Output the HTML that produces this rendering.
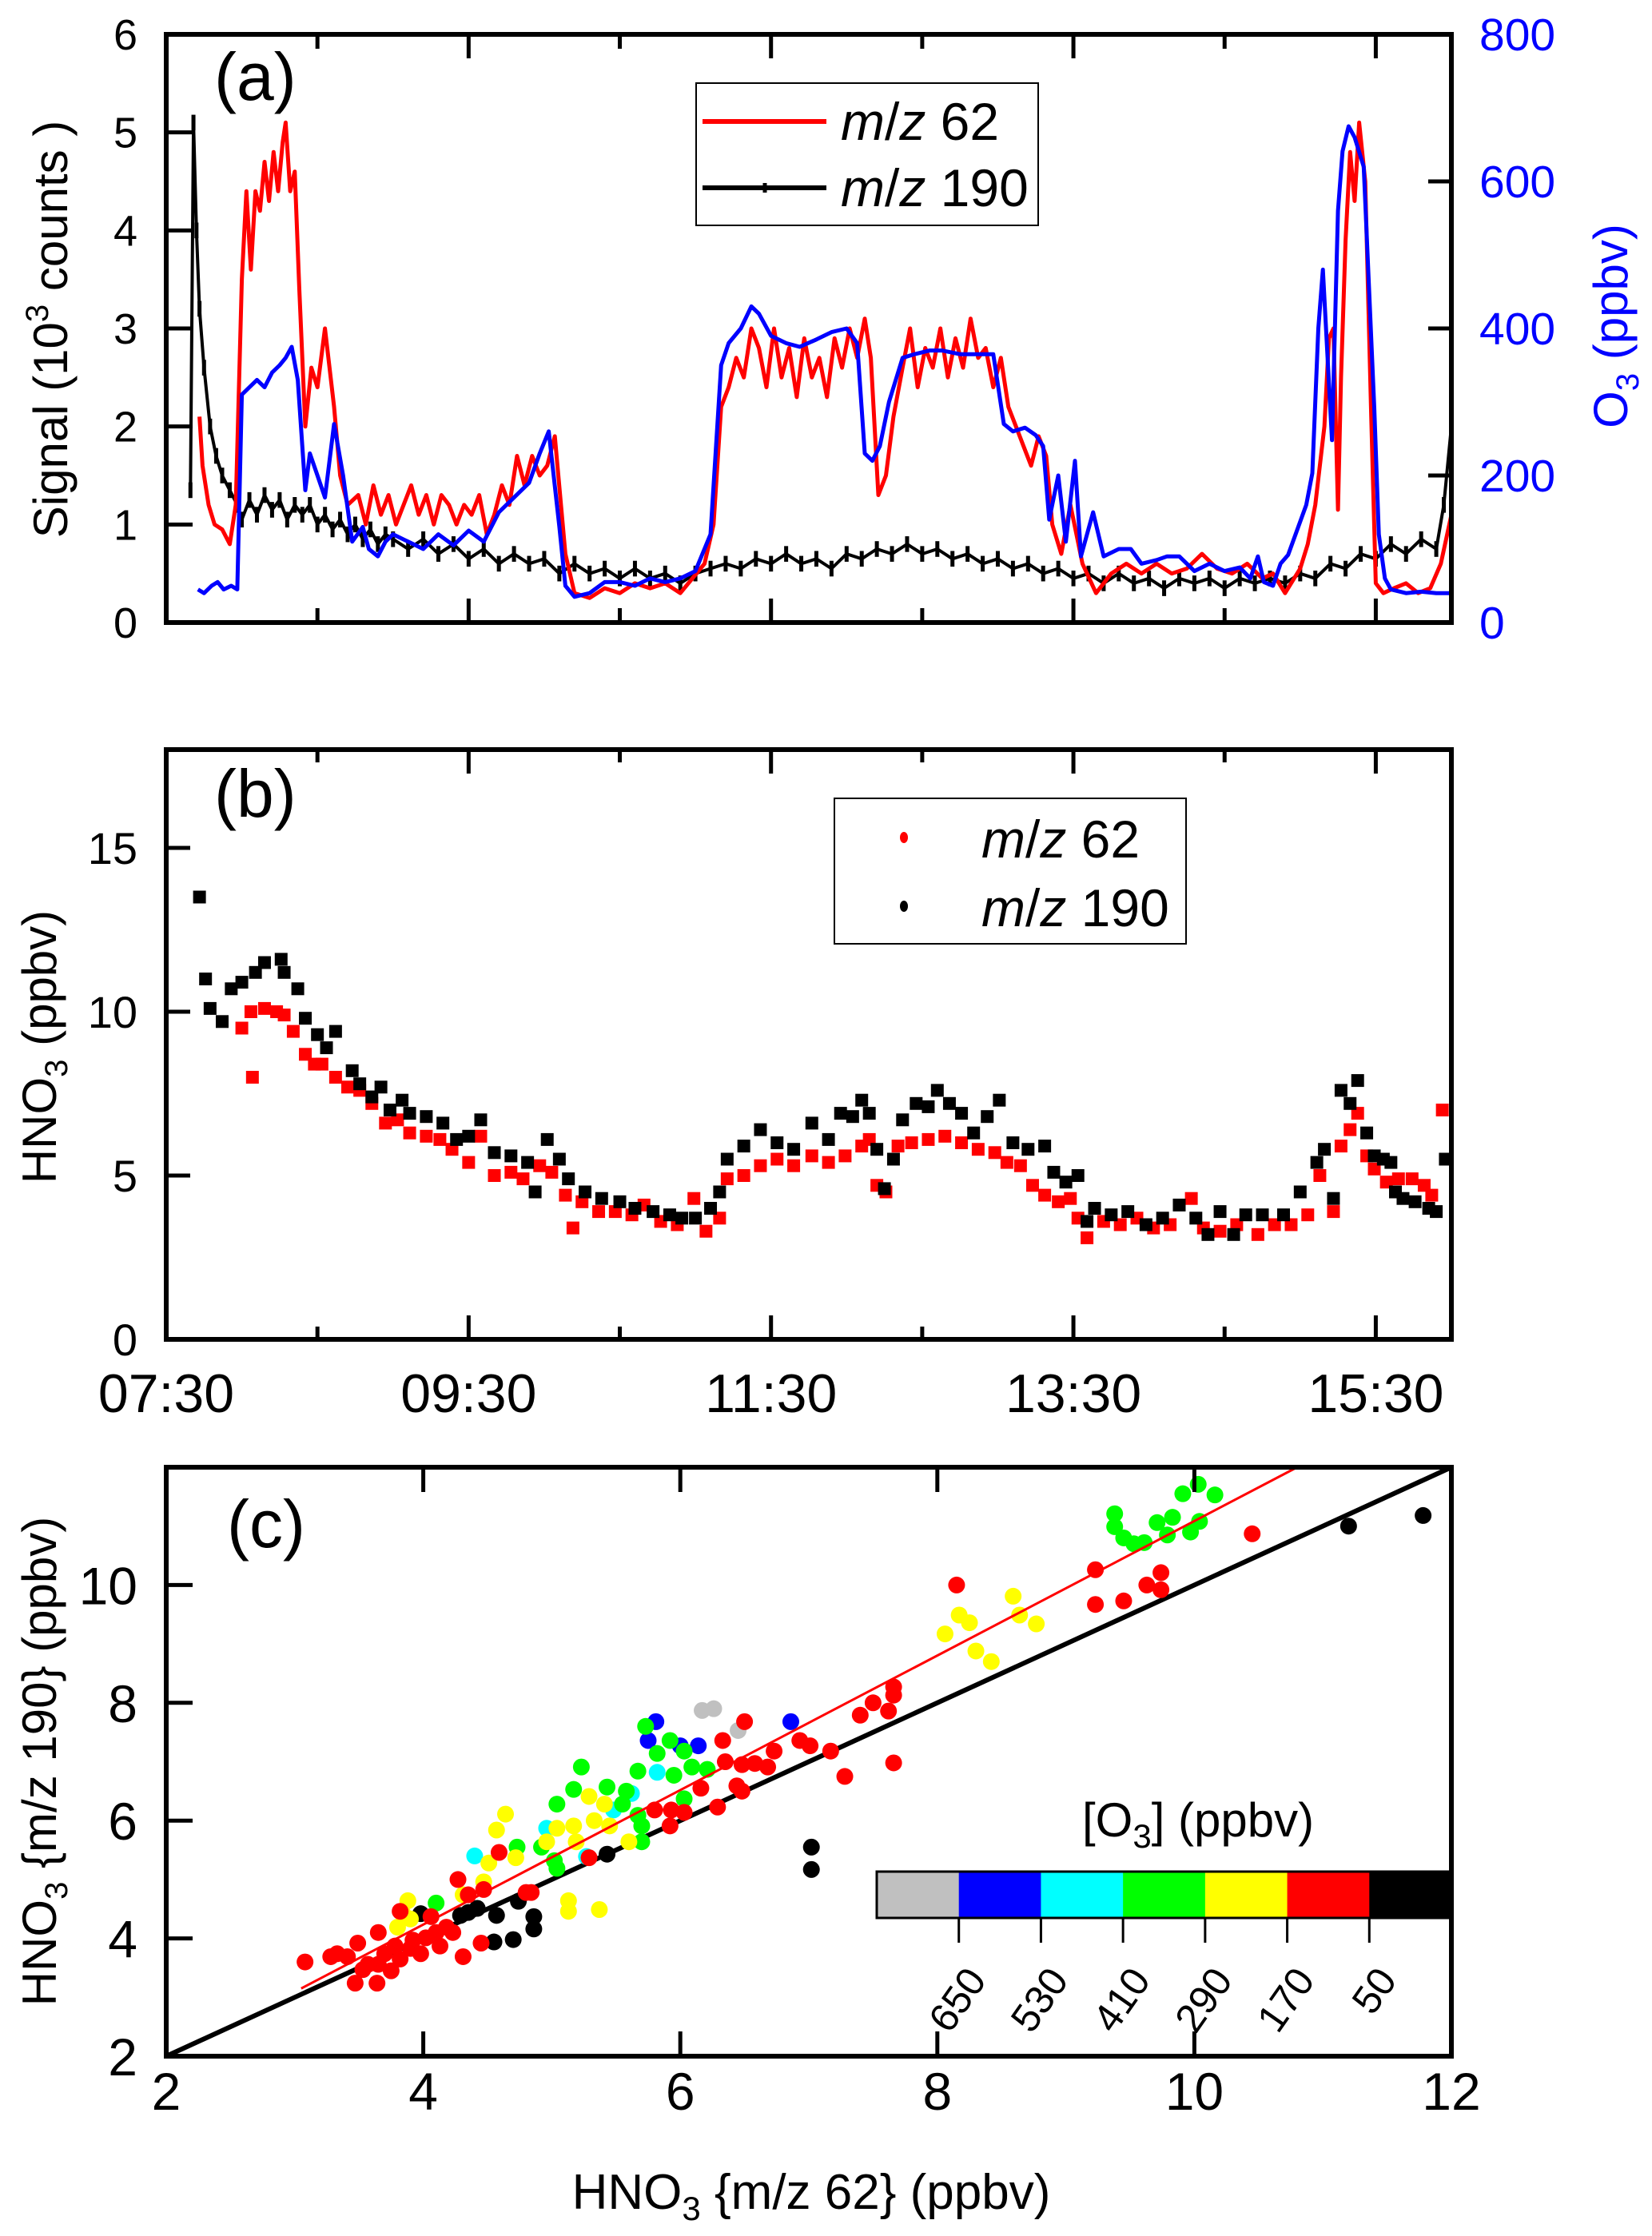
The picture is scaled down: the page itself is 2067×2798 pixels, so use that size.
<!DOCTYPE html>
<html><head><meta charset="utf-8"><style>
html,body{margin:0;padding:0;background:#fff;}
svg{display:block;}
text{font-family:"Liberation Sans",sans-serif;}
.n{font-family:"Liberation Sans Narrow","Liberation Sans",sans-serif;}
</style></head><body>
<svg id="fig" xmlns="http://www.w3.org/2000/svg" width="2067" height="2798" viewBox="0 0 2067 2798">
</svg>
<script>
// ---------- DATA ----------
// Panel (a): m/z 62 signal (10^3 counts) vs hour
const redA_t = [7.72,7.74,7.78,7.82,7.87,7.92,7.96,8.0,8.03,8.06,8.09,8.12,8.15,8.18,8.21,8.24,8.27,8.29,8.32,8.35,8.38,8.42,8.46,8.5,8.55,8.61,8.65,8.7,8.77,8.82,8.87,8.92,8.97,9.02,9.07,9.12,9.17,9.22,9.27,9.32,9.37,9.42,9.47,9.52,9.57,9.62,9.67,9.72,9.77,9.82,9.87,9.92,9.97,10.02,10.07,10.14,10.2,10.3,10.4,10.5,10.6,10.7,10.8,10.9,10.98,11.06,11.12,11.17,11.22,11.27,11.32,11.37,11.42,11.47,11.52,11.57,11.62,11.67,11.72,11.77,11.82,11.87,11.92,11.97,12.02,12.07,12.12,12.16,12.21,12.26,12.31,12.37,12.42,12.47,12.52,12.57,12.62,12.67,12.72,12.77,12.82,12.87,12.92,12.97,13.02,13.07,13.12,13.17,13.22,13.27,13.32,13.36,13.42,13.48,13.56,13.65,13.75,13.85,13.95,14.05,14.15,14.25,14.35,14.45,14.55,14.65,14.75,14.82,14.9,15.0,15.05,15.1,15.16,15.19,15.22,15.25,15.27,15.3,15.33,15.36,15.39,15.43,15.47,15.5,15.55,15.62,15.7,15.78,15.86,15.93,16.0];
const redA_v = [2.1,1.6,1.2,1.0,0.95,0.8,1.2,3.5,4.4,3.6,4.4,4.2,4.7,4.3,4.8,4.4,4.9,5.1,4.4,4.6,3.4,2.0,2.6,2.4,3.0,2.2,1.5,1.2,1.3,1.0,1.4,1.1,1.3,1.0,1.2,1.4,1.1,1.3,1.0,1.3,1.2,1.0,1.2,1.1,1.3,0.9,1.1,1.4,1.2,1.7,1.4,1.7,1.5,1.6,1.9,0.7,0.3,0.25,0.35,0.3,0.4,0.35,0.4,0.3,0.45,0.6,1.0,2.2,2.4,2.7,2.5,3.0,2.8,2.4,3.0,2.5,2.8,2.3,2.9,2.5,2.7,2.3,2.9,2.6,3.0,2.7,3.1,2.7,1.3,1.5,2.1,2.6,3.0,2.4,2.8,2.6,3.0,2.5,2.9,2.6,3.1,2.7,2.8,2.4,2.7,2.2,2.0,1.8,1.6,1.9,1.7,1.0,0.7,1.2,0.6,0.3,0.5,0.6,0.5,0.6,0.5,0.55,0.7,0.55,0.5,0.6,0.45,0.5,0.3,0.55,0.8,1.2,2.0,2.9,3.0,1.15,2.5,3.9,4.8,4.3,5.1,4.5,2.1,0.4,0.3,0.35,0.4,0.3,0.35,0.6,1.1];
// Panel (a): O3 (ppbv) vs hour
const o3_t = [7.71,7.75,7.8,7.84,7.88,7.93,7.97,8.0,8.05,8.1,8.15,8.2,8.25,8.29,8.33,8.37,8.42,8.45,8.5,8.55,8.61,8.67,8.73,8.8,8.84,8.9,8.95,9.0,9.1,9.2,9.3,9.4,9.5,9.6,9.7,9.8,9.9,9.97,10.03,10.1,10.14,10.2,10.3,10.4,10.5,10.6,10.7,10.8,10.9,11.0,11.1,11.17,11.22,11.3,11.37,11.42,11.5,11.6,11.69,11.8,11.9,12.0,12.07,12.12,12.17,12.22,12.28,12.37,12.45,12.55,12.63,12.75,12.85,12.97,13.04,13.1,13.18,13.25,13.3,13.34,13.4,13.45,13.51,13.55,13.63,13.7,13.8,13.88,13.95,14.05,14.12,14.2,14.3,14.4,14.5,14.6,14.67,14.72,14.76,14.82,14.87,14.92,15.04,15.08,15.12,15.15,15.21,15.25,15.28,15.32,15.36,15.42,15.49,15.52,15.56,15.6,15.7,15.8,15.9,16.0];
const o3_v = [45,40,50,55,45,50,45,310,320,330,320,340,350,360,375,330,180,230,200,170,270,200,110,130,100,90,110,120,110,100,120,105,125,110,150,170,190,230,260,130,50,35,40,55,55,50,60,55,60,70,120,350,380,400,430,420,390,380,375,385,395,400,380,230,220,240,300,360,365,370,370,365,365,365,270,260,265,255,240,140,200,110,220,90,150,90,100,100,80,85,90,90,70,80,70,75,60,90,55,50,80,92,160,203,400,480,248,560,641,675,660,620,292,120,60,45,40,42,40,40];
// Panel (a): m/z 190 signal (10^3 counts)
const blkA_t = [7.66,7.68,7.7,7.72,7.75,7.79,7.83,7.87,7.92,7.97,8.0,8.05,8.1,8.15,8.2,8.25,8.3,8.35,8.4,8.45,8.5,8.55,8.6,8.65,8.7,8.75,8.8,8.85,8.9,8.95,9.0,9.1,9.2,9.3,9.4,9.5,9.6,9.7,9.8,9.9,10.0,10.1,10.2,10.3,10.4,10.5,10.6,10.7,10.8,10.9,11.0,11.1,11.2,11.3,11.4,11.5,11.6,11.7,11.8,11.9,12.0,12.1,12.2,12.3,12.4,12.5,12.6,12.7,12.8,12.9,13.0,13.1,13.2,13.3,13.4,13.5,13.6,13.7,13.8,13.9,14.0,14.1,14.2,14.3,14.4,14.5,14.6,14.7,14.8,14.9,15.0,15.1,15.2,15.3,15.4,15.5,15.6,15.7,15.8,15.9,15.95,16.0];
const blkA_v = [1.35,5.1,4.0,3.2,2.6,2.0,1.7,1.5,1.35,1.2,1.05,1.25,1.1,1.3,1.15,1.25,1.05,1.2,1.1,1.2,1.0,1.1,0.95,1.05,0.9,1.0,0.85,0.95,0.8,0.9,0.85,0.75,0.85,0.7,0.8,0.65,0.75,0.6,0.7,0.6,0.65,0.5,0.6,0.5,0.55,0.45,0.55,0.45,0.5,0.4,0.5,0.55,0.6,0.55,0.65,0.6,0.7,0.6,0.65,0.55,0.7,0.65,0.75,0.7,0.8,0.7,0.75,0.65,0.7,0.6,0.65,0.55,0.6,0.5,0.55,0.45,0.5,0.4,0.5,0.4,0.45,0.35,0.45,0.4,0.45,0.35,0.45,0.4,0.45,0.4,0.5,0.45,0.6,0.55,0.7,0.65,0.8,0.7,0.85,0.75,1.2,2.0];
// Panel (b): HNO3 (ppbv)
const blkB_t = [7.72,7.76,7.79,7.87,7.93,8.0,8.09,8.15,8.26,8.28,8.37,8.42,8.5,8.56,8.62,8.73,8.78,8.86,8.92,8.98,9.06,9.11,9.22,9.33,9.42,9.5,9.58,9.67,9.78,9.89,9.94,10.02,10.1,10.16,10.27,10.38,10.5,10.6,10.72,10.83,10.91,11.0,11.1,11.16,11.21,11.32,11.43,11.54,11.65,11.77,11.88,11.96,12.04,12.1,12.15,12.2,12.25,12.31,12.37,12.46,12.54,12.6,12.68,12.76,12.84,12.93,13.01,13.1,13.2,13.31,13.37,13.45,13.53,13.59,13.64,13.75,13.86,13.98,14.09,14.2,14.31,14.39,14.47,14.56,14.64,14.75,14.89,15.0,15.11,15.16,15.22,15.27,15.33,15.38,15.44,15.49,15.55,15.6,15.63,15.68,15.76,15.85,15.9,15.96];
const blkB_v = [13.5,11.0,10.1,9.7,10.7,10.9,11.2,11.5,11.6,11.2,10.7,9.8,9.3,8.9,9.4,8.2,7.8,7.4,7.7,7.0,7.3,6.9,6.8,6.6,6.1,6.2,6.7,5.7,5.6,5.4,4.5,6.1,5.5,4.9,4.5,4.3,4.2,4.0,3.9,3.8,3.7,3.7,4.0,4.5,5.5,5.9,6.4,6.0,5.8,6.6,6.1,6.9,6.8,7.3,6.9,5.8,4.6,5.5,6.7,7.2,7.1,7.6,7.2,6.9,6.3,6.8,7.3,6.0,5.8,5.9,5.1,4.8,5.0,3.6,4.0,3.8,3.9,3.5,3.7,4.1,3.7,3.2,3.9,3.2,3.8,3.8,3.8,4.5,5.4,5.8,4.3,7.6,7.2,7.9,6.3,5.6,5.5,5.4,4.5,4.3,4.2,4.0,3.9,5.5];
const redB_t = [8.0,8.06,8.07,8.15,8.23,8.28,8.34,8.42,8.48,8.53,8.62,8.7,8.78,8.86,8.95,9.03,9.11,9.22,9.31,9.39,9.5,9.58,9.67,9.78,9.86,9.97,10.05,10.14,10.19,10.25,10.36,10.47,10.58,10.66,10.77,10.88,10.99,11.07,11.16,11.21,11.32,11.43,11.54,11.65,11.77,11.88,11.99,12.1,12.15,12.2,12.26,12.34,12.43,12.54,12.65,12.76,12.87,12.98,13.06,13.15,13.23,13.31,13.4,13.48,13.53,13.59,13.7,13.81,13.92,14.03,14.14,14.28,14.36,14.47,14.58,14.72,14.83,14.94,15.05,15.13,15.22,15.27,15.33,15.38,15.44,15.49,15.57,15.65,15.74,15.82,15.87,15.94];
const redB_v = [9.5,10.0,8.0,10.1,10.0,9.9,9.4,8.7,8.4,8.4,8.0,7.7,7.6,7.2,6.6,6.7,6.3,6.2,6.1,5.8,5.4,6.2,5.0,5.1,4.9,5.3,5.1,4.4,3.4,4.2,3.9,3.9,3.8,4.1,3.6,3.5,4.3,3.3,3.7,4.9,5.0,5.3,5.5,5.3,5.6,5.4,5.6,5.9,6.1,4.7,4.5,5.9,6.0,6.1,6.2,6.0,5.8,5.7,5.4,5.3,4.7,4.4,4.2,4.3,3.7,3.1,3.6,3.5,3.7,3.4,3.5,4.3,3.4,3.3,3.5,3.2,3.5,3.5,3.8,5.0,3.9,5.9,6.4,6.9,5.6,5.2,4.8,4.9,4.9,4.7,4.4,7.0];
// Panel (c): scatter, x = HNO3 m/z62, y = HNO3 m/z190, c = O3 bin index
const binColors = ["#c0c0c0","#0000ff","#00ffff","#00ff00","#ffff00","#ff0000","#000000"];
const binLabels = ["650","530","410","290","170","50"];
const scX = [11.2,11.78,7.02,7.02,5.43,4.74,4.86,4.86,4.70,4.55,4.57,4.35,4.29,4.42,3.98,
 6.17,6.26,6.45,
 5.81,5.75,6.0,6.14,6.86,
 4.96,4.40,5.27,5.82,5.62,5.48,
 9.38,9.38,9.45,9.53,9.61,9.71,9.83,9.79,9.91,10.03,10.16,10.04,9.97,5.23,5.17,5.04,5.43,5.55,5.67,5.73,5.82,5.92,6.03,6.09,6.21,5.95,6.03,5.70,5.70,5.67,5.58,4.92,4.73,5.04,5.02,4.10,
 8.06,8.17,8.25,8.3,8.42,8.59,8.64,8.77,4.64,4.57,5.13,5.37,5.13,4.72,4.96,5.04,5.17,5.29,5.41,5.33,5.45,5.60,5.19,4.51,4.47,4.31,3.88,3.84,3.80,3.90,
 10.45,8.15,9.23,9.23,9.45,9.63,9.74,9.74,7.66,7.66,7.50,7.62,7.40,7.66,7.28,7.17,6.93,7.01,6.73,6.68,6.58,6.48,6.35,6.33,6.50,6.44,6.48,6.29,6.16,6.03,5.92,5.93,5.80,5.29,4.59,4.80,4.84,4.47,4.35,4.27,4.31,4.45,4.18,4.06,3.82,3.65,3.49,3.33,3.08,3.47,3.64,3.75,3.57,3.41,3.70,3.90,3.98,4.10,4.02,3.92,3.78,3.65,3.53,3.82,4.13,4.23,3.28];
const scY = [11.0,11.18,5.55,5.17,5.43,4.63,4.37,4.16,3.98,3.94,4.39,4.44,4.39,4.51,4.42,
 7.87,7.9,7.53,
 7.68,7.36,7.27,7.27,7.68,
 5.87,5.40,5.39,6.82,6.46,6.18,
 11.21,10.99,10.8,10.7,10.72,11.06,11.15,10.85,11.55,11.71,11.53,11.08,10.9,6.91,6.53,6.28,6.57,6.28,6.84,7.6,7.14,7.36,7.18,6.91,6.87,6.77,6.37,5.91,5.64,6.09,6.5,5.55,5.55,5.19,5.32,4.6,
 9.17,9.49,9.36,8.88,8.70,9.81,9.49,9.34,6.11,5.84,4.64,4.49,4.46,5.37,5.64,5.87,5.91,6.41,6.28,6.0,5.91,5.64,5.64,5.28,4.96,4.74,4.64,4.42,4.19,4.33,
 10.87,10.0,10.26,9.67,9.73,10.0,10.21,9.92,8.27,8.13,8.0,7.86,7.79,6.98,6.75,7.18,7.36,7.27,7.18,6.91,6.97,6.95,7.0,7.36,7.68,6.59,6.5,6.23,6.55,6.14,5.91,6.18,6.18,5.37,5.46,4.78,4.78,4.83,4.74,5.0,3.69,3.92,4.19,4.37,4.46,4.10,3.92,3.74,3.60,3.24,3.24,3.45,3.56,3.69,3.74,3.83,3.74,4.10,4.01,3.97,3.87,3.56,3.47,3.65,3.87,4.10,3.69];
const scC = [6,6,6,6,6,6,6,6,6,6,6,6,6,6,6,
 0,0,0,
 1,1,1,1,1,
 2,2,2,2,2,2,
 3,3,3,3,3,3,3,3,3,3,3,3,3,3,3,3,3,3,3,3,3,3,3,3,3,3,3,3,3,3,3,3,3,3,3,3,
 4,4,4,4,4,4,4,4,4,4,4,4,4,4,4,4,4,4,4,4,4,4,4,4,4,4,4,4,4,4,
 5,5,5,5,5,5,5,5,5,5,5,5,5,5,5,5,5,5,5,5,5,5,5,5,5,5,5,5,5,5,5,5,5,5,5,5,5,5,5,5,5,5,5,5,5,5,5,5,5,5,5,5,5,5,5,5,5,5,5,5,5,5,5,5,5,5,5];
const fitX = [3.05,10.8];
const fitY = [3.15,12.0];

// ---------- HELPERS ----------
const NS="http://www.w3.org/2000/svg";
const svg=document.getElementById('fig');
function mk(tag,attrs,parent){const e=document.createElementNS(NS,tag);for(const k in attrs)e.setAttribute(k,attrs[k]);(parent||svg).appendChild(e);return e;}
function txt(s,attrs,parent){const e=mk('text',attrs,parent);e.textContent=s;return e;}
const L=208,R=1816;
const xT=t=>L+(t-7.5)*(R-L)/8.5;
// panel a
const aTop=43,aBot=779;
const yA=v=>aBot-v*(aBot-aTop)/6;
const yO=v=>aBot-v*(aBot-aTop)/800;
// panel b
const bTop=938,bBot=1676;
const yB=v=>bBot-v*41;
// panel c
const cTop=1836,cBot=2573;
const xC=v=>L+(v-2)*(R-L)/10;
const yC=v=>cBot-(v-2)*(cBot-cTop)/10;

function frame(top,bot,name){const r=mk('rect',{x:L,y:top,width:R-L,height:bot-top,fill:'none',stroke:'#000','stroke-width':6});

}
function line(x1,y1,x2,y2,col,w,parent){return mk('line',{x1,y1,x2,y2,stroke:col,'stroke-width':w},parent);}

// ================= PANEL A =================
const gA=mk('g',{});


function pts(ts,vs,fy){return ts.map((t,i)=>xT(t).toFixed(1)+','+fy(vs[i]).toFixed(1)).join(' ');}
const blkLine=mk('polyline',{points:pts(blkA_t,blkA_v,yA),fill:'none',stroke:'#000','stroke-width':4,'stroke-linejoin':'round'},gA);


blkA_t.forEach((t,i)=>{const e=line(xT(t),yA(blkA_v[i]+0.08),xT(t),yA(blkA_v[i]-0.08),'#000',5,gA);

});
const redLine=mk('polyline',{points:pts(redA_t,redA_v,yA),fill:'none',stroke:'#ff0000','stroke-width':5,'stroke-linejoin':'round'},gA);


const o3Line=mk('polyline',{points:pts(o3_t,o3_v,yO),fill:'none',stroke:'#0000ff','stroke-width':5,'stroke-linejoin':'round'},gA);


frame(aTop,aBot,'panel-a-frame');
// x ticks (hourly)
for(let h=8;h<=15;h++){const big=(h%2===1);const x=xT(h+0.5);const len=big?30:18;
 const t1=line(x,aTop,x,aTop+len,'#000',5);
 const t2=line(x,aBot,x,aBot-len,'#000',5);}
for(let v=0;v<=6;v++){const y=yA(v);
 if(v>0&&v<6){const tk=line(L,y,L+33,y,'#000',5);}
 const lb=txt(String(v),{x:172,y:y+19,'font-size':54,'text-anchor':'end',class:'n'});
 }
for(let v=0;v<=800;v+=200){const y=yO(v);
 if(v>0&&v<800){const tk=line(R,y,R-29,y,'#000',5);}
 const lb=txt(String(v),{x:1851,y:y+20,'font-size':57,fill:'#0000ff'});
 }
let t=txt('',{x:0,y:0,'font-size':60,transform:'translate(84,412) rotate(-90)','text-anchor':'middle',class:'n'});
t.innerHTML='Signal (10<tspan dy="-24" font-size="40">3</tspan><tspan dy="24"> counts )</tspan>';

t=txt('',{x:0,y:0,'font-size':60,fill:'#0000ff',transform:'translate(2036,408) rotate(-90)','text-anchor':'middle'});
t.innerHTML='O<tspan dy="14" font-size="40">3</tspan><tspan dy="-14"> (ppbv)</tspan>';

t=txt('(a)',{x:268,y:125,'font-size':84,class:'n'});

// legend a
const lgA=mk('g',{});


mk('rect',{x:871,y:104,width:428,height:178,fill:'#fff',stroke:'#000','stroke-width':2},lgA);
line(879,152,1034,152,'#ff0000',6,lgA);
line(879,235,1034,235,'#000',6,lgA);
line(957,229,957,241,'#000',5,lgA);
t=txt('',{x:1052,y:175,'font-size':66,class:'n'},lgA);t.innerHTML='<tspan font-style="italic">m</tspan>/<tspan font-style="italic">z</tspan> 62';

t=txt('',{x:1052,y:258,'font-size':66,class:'n'},lgA);t.innerHTML='<tspan font-style="italic">m</tspan>/<tspan font-style="italic">z</tspan> 190';


// ================= PANEL B =================
const gB=mk('g',{});


redB_t.forEach((tt,i)=>{const r=mk('rect',{x:xT(tt)-8,y:yB(redB_v[i])-8,width:16,height:16,fill:'#ff0000'},gB);

});
blkB_t.forEach((tt,i)=>{const r=mk('rect',{x:xT(tt)-8,y:yB(blkB_v[i])-8,width:16,height:16,fill:'#000'},gB);

});
frame(bTop,bBot,'panel-b-frame');
const timeLabels=["07:30","09:30","11:30","13:30","15:30"];
for(let h=8;h<=15;h++){const big=(h%2===1);const x=xT(h+0.5);const len=big?30:16;
 const t1=line(x,bTop,x,bTop+len,'#000',5);
 const t2=line(x,bBot,x,bBot-len,'#000',5);}
timeLabels.forEach((s,i)=>{const lb=txt(s,{x:xT(7.5+2*i),y:1767,'font-size':68,'text-anchor':'middle'});
});
for(let v=0;v<=15;v+=5){const y=yB(v);
 if(v>0){const tk=line(L,y,L+30,y,'#000',5);}
 const lb=txt(String(v),{x:172,y:y+20,'font-size':56,'text-anchor':'end'});
 }
t=txt('',{x:0,y:0,'font-size':60,transform:'translate(70,1310) rotate(-90)','text-anchor':'middle',class:'n'});
t.innerHTML='HNO<tspan dy="14" font-size="40">3</tspan><tspan dy="-14"> (ppbv)</tspan>';

t=txt('(b)',{x:268,y:1022,'font-size':84,class:'n'});

const lgB=mk('g',{});


mk('rect',{x:1044,y:999,width:440,height:182,fill:'#fff',stroke:'#000','stroke-width':2},lgB);
mk('ellipse',{cx:1131,cy:1048,rx:5,ry:7,fill:'#ff0000'},lgB);
mk('ellipse',{cx:1131,cy:1134,rx:5,ry:7,fill:'#000'},lgB);
t=txt('',{x:1228,y:1073,'font-size':66,class:'n'},lgB);t.innerHTML='<tspan font-style="italic">m</tspan>/<tspan font-style="italic">z</tspan> 62';

t=txt('',{x:1228,y:1159,'font-size':66,class:'n'},lgB);t.innerHTML='<tspan font-style="italic">m</tspan>/<tspan font-style="italic">z</tspan> 190';


// ================= PANEL C =================
const gC=mk('g',{});


const oneOne=line(xC(2),yC(2),xC(12),yC(12),'#000',6,gC);


scX.forEach((v,i)=>{const c=mk('circle',{cx:xC(v),cy:yC(scY[i]),r:10.5,fill:binColors[scC[i]]},gC);

});
const fit=line(xC(fitX[0]),yC(fitY[0]),xC(fitX[1]),yC(fitY[1]),'#ff0000',3,gC);


frame(cTop,cBot,'panel-c-frame');
for(let v=2;v<=12;v+=2){const x=xC(v);
 if(v>2&&v<12){const a1=line(x,cTop,x,cTop+31,'#000',5);
 const a2=line(x,cBot,x,cBot-31,'#000',5);}
 const lb=txt(String(v),{x:x,y:2640,'font-size':66,'text-anchor':'middle',class:'n'});
 }
for(let v=2;v<=10;v+=2){const y=yC(v);
 if(v>2){const tk=line(L,y,L+33,y,'#000',5);}
 const lb=txt(String(v),{x:172,y:y+24,'font-size':66,'text-anchor':'end',class:'n'});
 }
t=txt('',{x:0,y:0,'font-size':60,transform:'translate(70,2204) rotate(-90)','text-anchor':'middle'});
t.innerHTML='HNO<tspan dy="14" font-size="40">3</tspan><tspan dy="-14"> {m/z 190} (ppbv)</tspan>';

t=txt('',{x:1015,y:2764,'font-size':62,'text-anchor':'middle',class:'n'});
t.innerHTML='HNO<tspan dy="14" font-size="42">3</tspan><tspan dy="-14"> {m/z 62} (ppbv)</tspan>';

t=txt('(c)',{x:284,y:1936,'font-size':84,class:'n'});

// colour bar
const cb=mk('g',{});


const cbL=1097,cbR=1816,cbT=2342,cbB=2400,seg=(cbR-cbL)/7;
binColors.forEach((c,i)=>{const r=mk('rect',{x:cbL+i*seg,y:cbT,width:seg+0.5,height:cbB-cbT,fill:c},cb);

});
mk('rect',{x:cbL,y:cbT,width:cbR-cbL,height:cbB-cbT,fill:'none',stroke:'#000','stroke-width':3},cb);
binLabels.forEach((s,i)=>{const x=cbL+(i+1)*seg;
 line(x,cbB,x,2431,'#000',3,cb);
 const lb=txt(s,{x:0,y:0,'font-size':50,'text-anchor':'end',class:'n',transform:`translate(${x+36},${2478}) rotate(-55)`},cb);
 });
t=txt('',{x:1354,y:2298,'font-size':60,class:'n'},cb);
t.innerHTML='[O<tspan dy="14" font-size="42">3</tspan><tspan dy="-14">] (ppbv)</tspan>';

</script>
</body></html>
